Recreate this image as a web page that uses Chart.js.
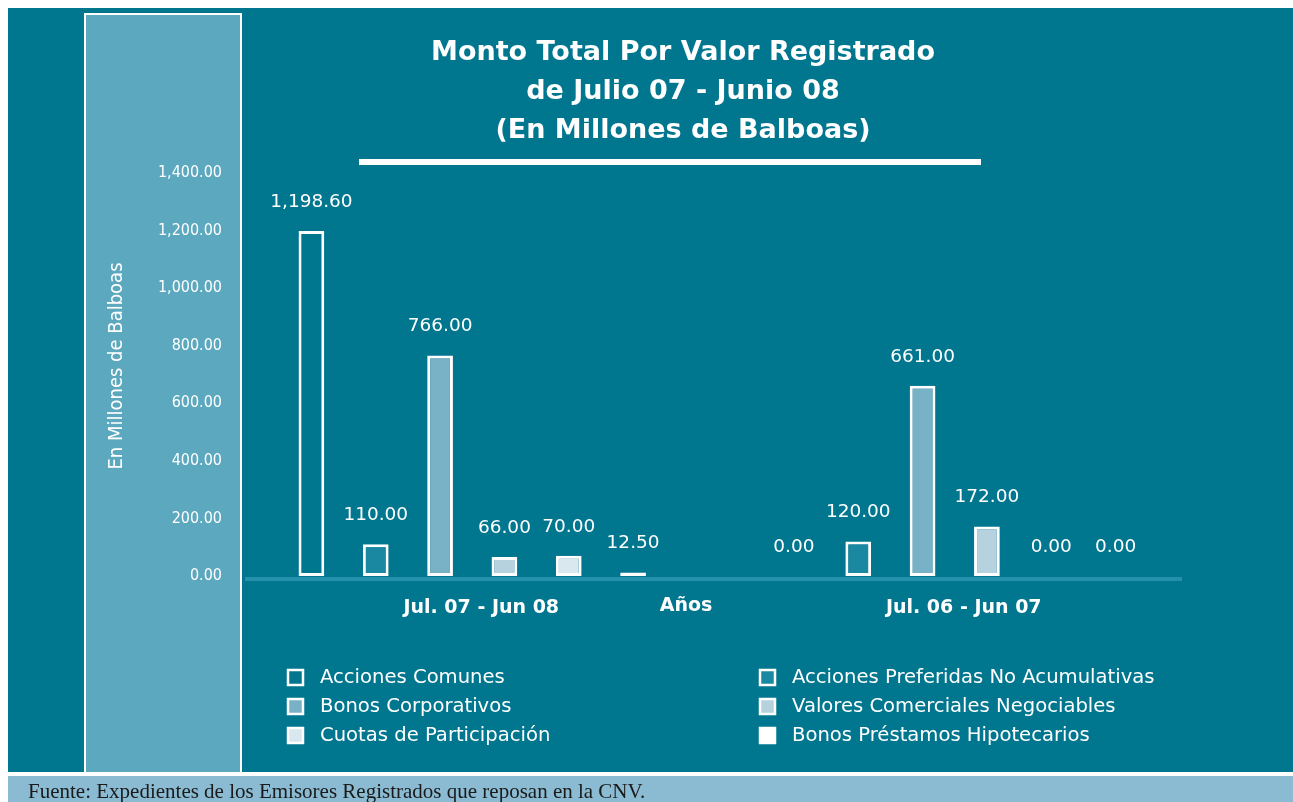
<!DOCTYPE html>
<html>
<head>
<meta charset="utf-8">
<title>Monto Total Por Valor Registrado</title>
<script src="https://cdn.jsdelivr.net/npm/chart.js@4.4.1/dist/chart.umd.min.js"></script>
<style>
  html, body { margin: 0; padding: 0; background: #ffffff; }
  #wrap { position: relative; width: 1293px; height: 802px; }
</style>
</head>
<body>
<div id="wrap"><canvas id="bar-chart" width="1293" height="802"></canvas></div>
<script>
// periods
var periodos = ['Jul. 07 - Jun 08', 'Jul. 06 - Jun 07'];

// series (millones de balboas)
var accionesComunes = [1198.60, 0.00];
var accionesPreferidas = [110.00, 120.00];
var bonosCorporativos = [766.00, 661.00];
var valoresComerciales = [66.00, 172.00];
var cuotasParticipacion = [70.00, 0.00];
var bonosHipotecarios = [12.50, 0.00];

// y ticks
var yTicks = [0, 200, 400, 600, 800, 1000, 1200, 1400];

var tituloLineas = ['Monto Total Por Valor Registrado', 'de Julio 07 - Junio 08', '(En Millones de Balboas)'];
var fuente = 'Fuente: Expedientes de los Emisores Registrados que reposan en la CNV.';

// colours
var bgTeal = '#00768f';
var stripBlue = '#5ba8bf';
var footerBlue = '#8bbbd2';
var white = '#ffffff';

var fmt = function(v) {
    return v.toLocaleString('en-US', { minimumFractionDigits: 2, maximumFractionDigits: 2 });
};

var mkSet = function(label, data, fill) {
    return {
        label: label,
        data: data,
        backgroundColor: fill,
        borderColor: white,
        borderWidth: 3,
        borderSkipped: false,
        barPercentage: 0.4,
        categoryPercentage: 0.8
    };
};

var barChartData = {
    labels: periodos,
    datasets: [
        mkSet('Acciones Comunes', accionesComunes, bgTeal),
        mkSet('Acciones Preferidas No Acumulativas', accionesPreferidas, '#1b88a2'),
        mkSet('Bonos Corporativos', bonosCorporativos, '#79b1c6'),
        mkSet('Valores Comerciales Negociables', valoresComerciales, '#b7d2df'),
        mkSet('Cuotas de Participación', cuotasParticipacion, '#d9e8ee'),
        mkSet('Bonos Préstamos Hipotecarios', bonosHipotecarios, white)
    ]
};

// background panels, drawn before everything
var backdrop = {
    id: 'backdrop',
    beforeDraw: function(chart) {
        var c = chart.ctx;
        c.save();
        c.fillStyle = white;
        c.fillRect(0, 0, chart.width, chart.height);
        c.fillStyle = bgTeal;
        c.fillRect(8, 8, 1285, 764);
        // left strip
        c.fillStyle = stripBlue;
        c.fillRect(84, 13, 158, 759);
        c.strokeStyle = white;
        c.lineWidth = 2;
        c.beginPath();
        c.moveTo(85, 772); c.lineTo(85, 14); c.lineTo(241, 14); c.lineTo(241, 772);
        c.stroke();
        // footer
        c.fillStyle = footerBlue;
        c.fillRect(8, 776, 1285, 26);
        // baseline band
        var y0 = chart.scales.y.getPixelForValue(0);
        c.fillStyle = '#2490a9';
        c.fillRect(245, y0 + 1, 937, 4);
        c.restore();
    },
    afterDraw: function(chart) {
        var c = chart.ctx;
        c.save();
        // title
        c.fillStyle = white;
        c.textAlign = 'center';
        c.textBaseline = 'middle';
        c.font = 'bold 27px "DejaVu Sans"';
        tituloLineas.forEach(function(t, i) {
            c.fillText(t, 683, 53 + i * 39);
        });
        c.fillRect(359, 159, 622, 6);

        // axis titles
        c.font = '20px "DejaVu Sans Condensed", "DejaVu Sans"';
        c.save();
        c.translate(117, 366);
        c.rotate(-Math.PI / 2);
        c.fillText('En Millones de Balboas', 0, 0);
        c.restore();
        c.font = 'bold 19px "DejaVu Sans"';
        c.fillText('Años', 686, 606);

        // value labels above bars
        c.font = '18.5px "DejaVu Sans"';
        chart.data.datasets.forEach(function(ds, di) {
            var meta = chart.getDatasetMeta(di);
            meta.data.forEach(function(bar, i) {
                c.fillText(fmt(ds.data[i]), bar.x, bar.y - 29);
            });
        });

        // legend, two columns
        c.textAlign = 'left';
        c.font = '19.6px "DejaVu Sans"';
        chart.data.datasets.forEach(function(ds, di) {
            var col = di % 2, row = Math.floor(di / 2);
            var x = col === 0 ? 288 : 760;
            var y = 677 + row * 29;
            c.fillStyle = ds.backgroundColor;
            c.fillRect(x, y - 7, 15, 15);
            c.strokeStyle = white;
            c.lineWidth = 2.5;
            c.strokeRect(x, y - 7, 15, 15);
            c.fillStyle = white;
            c.fillText(ds.label, x + 32, y + 1);
        });

        // source
        c.fillStyle = '#1a1a1a';
        c.font = '21px "Liberation Serif"';
        c.fillText(fuente, 28, 792);
        c.restore();
    }
};

var ctx = document.getElementById('bar-chart').getContext('2d');
var barChart = new Chart(ctx, {
    type: 'bar',
    data: barChartData,
    plugins: [backdrop],
    options: {
        responsive: false,
        animation: false,
        layout: { padding: { left: 0, right: 97, top: 173, bottom: 176 } },
        plugins: {
            legend: { display: false },
            title: { display: false },
            tooltip: { enabled: false }
        },
        scales: {
            x: {
                grid: { display: false, drawTicks: false },
                border: { display: false },
                ticks: {
                    color: white,
                    padding: 21,
                    labelOffset: 9,
                    font: { family: 'DejaVu Sans', size: 19, weight: 'bold' }
                },
                afterFit: function(s) { s.height = 50; }
            },
            y: {
                min: 0,
                max: 1400,
                grid: { display: false, drawTicks: false },
                border: { display: false },
                afterFit: function(s) { s.width = 231; },
                afterBuildTicks: function(s) {
                    s.ticks = yTicks.map(function(v) { return { value: v }; });
                },
                ticks: {
                    color: white,
                    padding: 9,
                    font: { family: '"DejaVu Sans Condensed", "DejaVu Sans"', size: 16 },
                    callback: function(v) { return fmt(v); }
                }
            }
        }
    }
});
</script>
</body>
</html>
